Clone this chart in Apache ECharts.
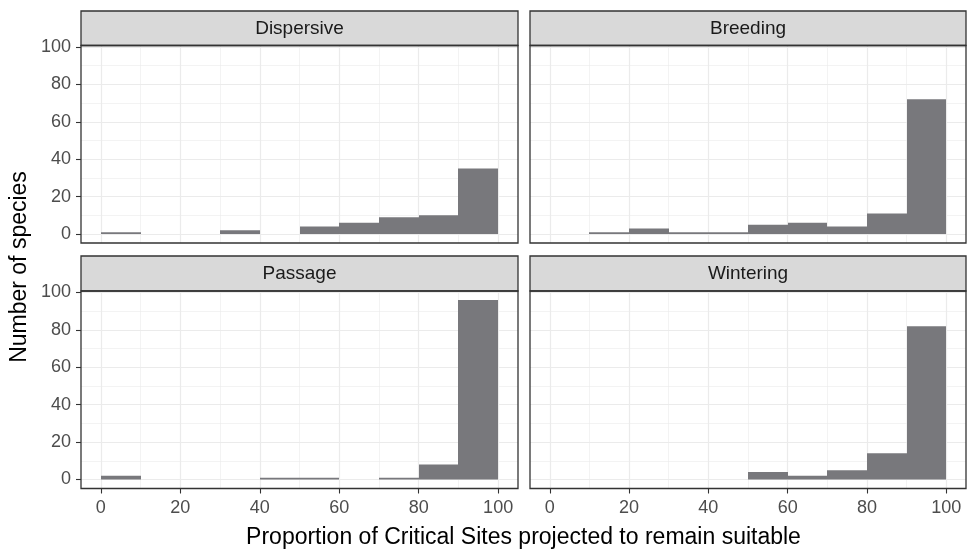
<!DOCTYPE html>
<html><head><meta charset="utf-8">
<script src="https://cdn.jsdelivr.net/npm/echarts@6/dist/echarts.min.js"></script>
<style>html,body{margin:0;padding:0;background:#fff}#c{width:967px;height:554px}</style>
</head><body><div id="c"></div>
<script>
// ---- data ----
const panelNames = ['Dispersive', 'Breeding', 'Passage', 'Wintering'];
const binStarts = [0, 10, 20, 30, 40, 50, 60, 70, 80, 90];
const binWidth = 10;
const dispersive = [1, 0, 0, 2, 0, 4, 6, 9, 10, 35];
const breeding   = [0, 1, 3, 1, 1, 5, 6, 4, 11, 72];
const passage    = [2, 0, 0, 0, 1, 1, 0, 1, 8, 96];
const wintering  = [0, 0, 0, 0, 0, 4, 2, 5, 14, 82];
const xTicks = [0, 20, 40, 60, 80, 100];
const yTicks = [0, 20, 40, 60, 80, 100];
const xMinor = [10, 30, 50, 70, 90];
const yMinor = [10, 30, 50, 70, 90];
const xTitle = 'Proportion of Critical Sites projected to remain suitable';
const yTitle = 'Number of species';

// ---- layout ----
const FONT = '"Liberation Sans", Arial, Helvetica, sans-serif';
const panelVals = [dispersive, breeding, passage, wintering];
const cols = [{left: 81, width: 437}, {left: 530, width: 436}];
const rows = [{stripTop: 11, top: 45.5, height: 197.5}, {stripTop: 256, top: 291, height: 197.5}];
const BAR = '#78787c';
const GRID = '#ebebeb';
const BORDER = '#333333';

const chart = echarts.init(document.getElementById('c'), null, {renderer: 'canvas'});

const grids = [], xAxes = [], yAxes = [], series = [], graphics = [];

panelNames.forEach((name, i) => {
  const r = Math.floor(i / 2), c = i % 2;
  const col = cols[c], row = rows[r];
  grids.push({left: col.left, top: row.top, width: col.width, height: row.height, show: false, containLabel: false});
  const bottomRow = r === 1, leftCol = c === 0;
  xAxes.push({
    type: 'value', gridIndex: i, min: -5, max: 105,
    axisLine: {show: false, onZero: false},
    splitLine: {show: false},
    axisTick: {show: bottomRow, customValues: xTicks, length: 5, lineStyle: {color: BORDER, width: 1.1}},
    axisLabel: {show: bottomRow, customValues: xTicks, margin: 11, color: '#4d4d4d', fontSize: 18, fontFamily: FONT}
  });
  yAxes.push({
    type: 'value', gridIndex: i, min: -4.8, max: 100.8,
    axisLine: {show: false, onZero: false},
    splitLine: {show: false},
    axisTick: {show: leftCol, customValues: yTicks, length: 5, lineStyle: {color: BORDER, width: 1.1}},
    axisLabel: {show: leftCol, customValues: yTicks, margin: 10, color: '#4d4d4d', fontSize: 18, fontFamily: FONT}
  });
  const gridLines = [];
  xMinor.forEach(v => gridLines.push({xAxis: v, lineStyle: {width: 0.6}}));
  yMinor.forEach(v => gridLines.push({yAxis: v, lineStyle: {width: 0.6}}));
  xTicks.forEach(v => gridLines.push({xAxis: v, lineStyle: {width: 1.2}}));
  yTicks.forEach(v => gridLines.push({yAxis: v, lineStyle: {width: 1.2}}));
  series.push({
    type: 'custom', xAxisIndex: i, yAxisIndex: i, z: 3,
    data: binStarts.map((s, k) => [s, s + binWidth, panelVals[i][k]]),
    encode: {x: [0, 1], y: 2},
    renderItem: function (params, api) {
      const p0 = api.coord([api.value(0), 0]);
      const p1 = api.coord([api.value(1), api.value(2)]);
      const xa = Math.round(p0[0]), xb = Math.round(p1[0]);
      if (api.value(2) <= 0) return null;
      return {type: 'rect', shape: {x: xa, y: p1[1], width: xb - xa, height: p0[1] - p1[1]}, style: {fill: BAR}};
    },
    markLine: {
      silent: true, symbol: ['none', 'none'], label: {show: false}, z: 1, animation: false,
      lineStyle: {color: GRID, type: 'solid'}, emphasis: {disabled: true},
      data: gridLines
    },
    animation: false
  });
  // strip
  graphics.push({
    type: 'rect', z: 50,
    shape: {x: col.left, y: row.stripTop, width: col.width, height: row.top - row.stripTop},
    style: {fill: '#d9d9d9', stroke: BORDER, lineWidth: 1.3}
  });
  graphics.push({
    type: 'text', z: 51,
    x: col.left + col.width / 2, y: row.stripTop + (row.top - row.stripTop) / 2 + 0.5,
    style: {text: name, fill: '#1a1a1a', font: '19px ' + FONT, textAlign: 'center', textVerticalAlign: 'middle'}
  });
  // panel border
  graphics.push({
    type: 'rect', z: 50,
    shape: {x: col.left, y: row.top, width: col.width, height: row.height},
    style: {fill: null, stroke: BORDER, lineWidth: 1.3}
  });
});

graphics.push({
  type: 'text', z: 51, x: 523.5, y: 538,
  style: {text: xTitle, fill: '#000', font: '23px ' + FONT, textAlign: 'center', textVerticalAlign: 'middle'}
});
graphics.push({
  type: 'text', z: 51, x: 20, y: 267, rotation: Math.PI / 2,
  style: {text: yTitle, fill: '#000', font: '23px ' + FONT, textAlign: 'center', textVerticalAlign: 'middle'}
});

chart.setOption({
  animation: false,
  backgroundColor: '#ffffff',
  grid: grids, xAxis: xAxes, yAxis: yAxes, series: series,
  graphic: {elements: graphics}
});
</script></body></html>
